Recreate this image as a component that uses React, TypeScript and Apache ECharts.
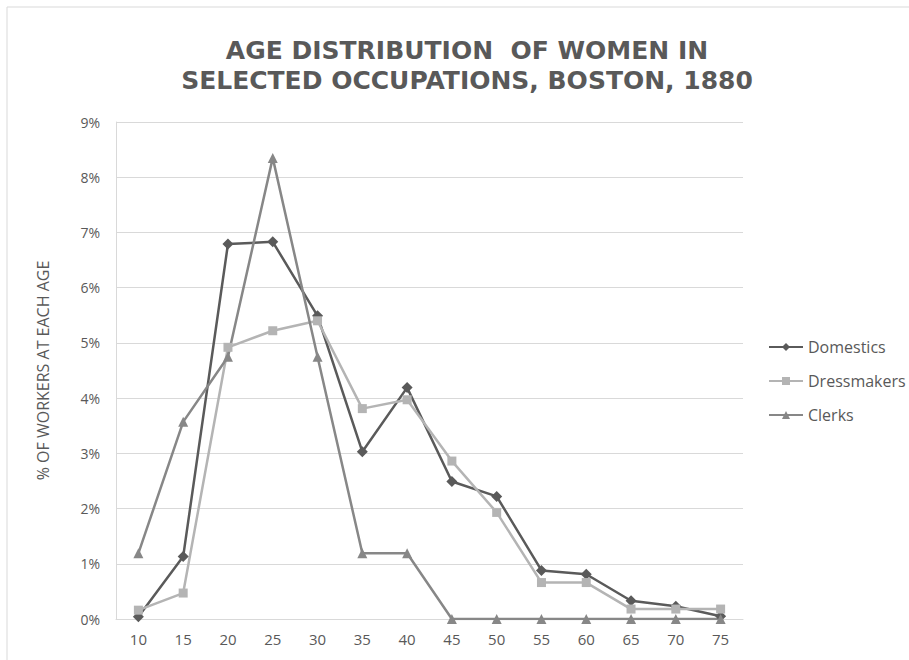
import React, { useEffect, useRef } from "react";
import * as echarts from "echarts";

const ages = ["10", "15", "20", "25", "30", "35", "40", "45", "50", "55", "60", "65", "70", "75"];
const domestics = [0.04, 1.13, 6.79, 6.83, 5.49, 3.03, 4.19, 2.49, 2.22, 0.88, 0.81, 0.33, 0.23, 0.05];
const dressmakers = [0.16, 0.47, 4.92, 5.22, 5.4, 3.81, 3.97, 2.86, 1.93, 0.66, 0.66, 0.18, 0.18, 0.18];
const clerks = [1.19, 3.57, 4.75, 8.35, 4.75, 1.19, 1.19, 0, 0, 0, 0, 0, 0, 0];

const TEXT = "#595959";
const FONT = "'Open Sans', 'Noto Sans', sans-serif";

export default function App() {
  const ref = useRef<HTMLDivElement>(null);
  useEffect(() => {
    if (!ref.current) return;
    const chart = echarts.init(ref.current, null, { renderer: "svg" });
    const mk = (name: string, data: number[], color: string, symbol: string, size: number) => ({
      name,
      type: "line",
      data,
      symbol,
      symbolSize: size,
      itemStyle: { color },
      lineStyle: { color, width: 2.5 },
      emphasis: { disabled: true },
    });
    chart.setOption({
      animation: false,
      textStyle: { fontFamily: FONT },
      graphic: [
        {
          type: "rect",
          shape: { x: 7, y: 7, width: 920, height: 680 },
          style: { fill: "none", stroke: "#d9d9d9", lineWidth: 1 },
          silent: true,
        },
      ],
      title: {
        text: "AGE DISTRIBUTION  OF WOMEN IN\nSELECTED OCCUPATIONS, BOSTON, 1880",
        left: 462,
        textAlign: "center",
        top: 30,
        textStyle: {
          fontFamily: "'DejaVu Sans', sans-serif",
          fontSize: 25,
          fontWeight: "bold",
          color: TEXT,
          lineHeight: 30,
        },
      },
      legend: {
        orient: "vertical",
        left: 763,
        top: 334,
        itemGap: 18,
        itemWidth: 34,
        itemHeight: 10,
        textStyle: { fontSize: 16, color: TEXT, fontFamily: FONT },
        data: ["Domestics", "Dressmakers", "Clerks"],
      },
      grid: { left: 116, right: 166, top: 122, bottom: 41, containLabel: false },
      xAxis: {
        type: "category",
        data: ages,
        boundaryGap: true,
        axisLine: { lineStyle: { color: "#d9d9d9", width: 1 } },
        axisTick: { show: false },
        axisLabel: { color: TEXT, fontSize: 15, margin: 12, fontFamily: FONT },
      },
      yAxis: {
        type: "value",
        min: 0,
        max: 9,
        interval: 1,
        name: "% OF WORKERS AT EACH AGE",
        nameLocation: "middle",
        nameGap: 65,
        nameTextStyle: { color: TEXT, fontSize: 16, fontFamily: FONT },
        axisLine: { show: true, lineStyle: { color: "#d9d9d9", width: 1 } },
        axisTick: { show: false },
        splitLine: { lineStyle: { color: "#d9d9d9", width: 1 } },
        axisLabel: { color: TEXT, fontSize: 14, margin: 16, formatter: "{value}%", fontFamily: FONT },
      },
      series: [
        mk("Domestics", domestics, "#5a5a5a", "diamond", 11),
        mk("Dressmakers", dressmakers, "#b4b4b4", "rect", 9),
        mk("Clerks", clerks, "#878787", "triangle", 10),
      ],
    });
    return () => chart.dispose();
  }, []);
  return (
    <div
      ref={ref}
      style={{ position: "fixed", left: 0, top: 0, width: 909, height: 660, background: "#fff" }}
    />
  );
}
